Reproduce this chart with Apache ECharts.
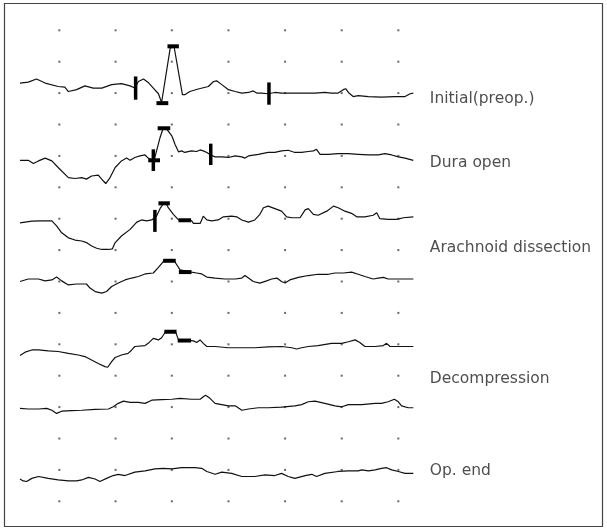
<!DOCTYPE html>
<html>
<head>
<meta charset="utf-8">
<script src="https://cdn.jsdelivr.net/npm/echarts@6/dist/echarts.min.js"></script>
<style>html,body{margin:0;padding:0;background:#fff}#c{width:607px;height:529px}</style>
</head>
<body>
<div id="c"></div>
<script>
// Time (ms) and amplitude (µV, relative to each trace's baseline)
const traceNames = ['Initial(preop.)','Dura open','Arachnoid dissection 1','Arachnoid dissection 2','Decompression 1','Decompression 2','Op. end'];
const offsets = [13, 11, 9, 7, 5, 3, 1];

const t1 = [0,0.21,0.42,0.64,0.97,1.14,1.23,1.44,1.65,1.86,2.08,2.33,2.58,2.80,2.92,3.01,3.14,3.26,3.39,3.52,3.60,3.82,3.92,4.13,4.19,4.32,4.53,4.79,4.92,5.00,5.13,5.30,5.47,5.64,5.81,5.93,6.02,6.14,6.31,6.48,6.65,7.08,7.50,7.75,7.92,8.09,8.22,8.28,8.35,8.47,8.60,8.86,9.19,9.53,9.79,9.92,10.0];
const a1 = [0.32,0.35,0.45,0.32,0.21,0.19,0.05,0.11,0.23,0.16,0.16,0.27,0.30,0.23,0.16,0.37,0.45,0.34,0.16,-0.02,-0.30,1.44,1.46,-0.05,-0.05,0.05,0.13,0.21,0.37,0.39,0.27,0.11,0.05,0,0.02,0.07,0,0,-0.02,0.02,0,0,0,0.02,0,0,0.11,0.14,0.02,-0.11,-0.08,-0.11,-0.13,-0.11,-0.11,-0.02,0];

const t2 = [0,0.21,0.34,0.47,0.64,0.81,0.97,1.23,1.40,1.57,1.69,1.82,1.99,2.12,2.18,2.29,2.42,2.58,2.71,2.80,2.92,3.05,3.18,3.26,3.35,3.43,3.56,3.64,3.73,3.86,3.94,4.03,4.11,4.19,4.36,4.49,4.58,4.66,4.75,4.85,4.96,5.13,5.30,5.47,5.64,5.72,5.81,6.06,6.31,6.48,6.65,6.82,6.99,7.16,7.33,7.46,7.54,7.63,7.84,8.09,8.35,8.60,8.86,9.11,9.28,9.45,9.62,9.79,10.0];
const a2 = [-0.14,-0.14,-0.24,-0.16,-0.07,-0.16,-0.37,-0.69,-0.72,-0.69,-0.74,-0.64,-0.61,-0.80,-0.88,-0.69,-0.37,-0.16,-0.07,-0.14,-0.05,0,0.03,-0.07,-0.14,-0.05,0.58,0.88,0.85,0.64,0.37,0.13,0.16,0.11,0.16,0.14,0.19,0.16,0.11,0.03,-0.03,-0.03,-0.05,0,-0.03,-0.07,0,0.05,0.11,0.11,0.16,0.18,0.11,0.11,0.14,0.16,0.21,0.05,0.05,0.07,0.07,0.05,0.03,0.03,0.07,0.03,-0.03,-0.07,-0.14];

const t3 = [0,0.30,0.55,0.81,0.93,1.06,1.23,1.40,1.57,1.69,1.82,1.95,2.08,2.25,2.35,2.42,2.58,2.80,2.97,3.09,3.22,3.35,3.47,3.56,3.64,3.73,3.77,3.90,4.03,4.36,4.41,4.58,4.66,4.75,4.87,5.04,5.17,5.38,5.51,5.64,5.81,5.97,6.10,6.19,6.31,6.48,6.65,6.78,6.91,7.12,7.25,7.33,7.46,7.58,7.80,7.97,8.09,8.26,8.43,8.56,8.77,8.98,9.07,9.15,9.36,9.58,9.75,10.0];
const a3 = [-0.13,-0.08,-0.07,-0.07,-0.23,-0.45,-0.61,-0.68,-0.71,-0.76,-0.87,-0.94,-0.98,-0.98,-0.96,-0.76,-0.55,-0.34,-0.11,-0.04,-0.07,-0.04,0.08,0.32,0.47,0.45,0.35,0.14,-0.04,-0.06,-0.15,-0.15,0.08,-0.04,-0.07,-0.04,0.06,0.08,0.06,-0.04,-0.11,-0.04,0.14,0.35,0.40,0.32,0.24,0.06,0.03,0.03,0.28,0.32,0.14,0.11,0.24,0.40,0.35,0.24,0.17,0.06,0.06,0.11,0.19,0,-0.02,-0.02,0.03,0.06];

const t4 = [0,0.21,0.47,0.64,0.81,0.93,1.06,1.23,1.44,1.69,1.78,1.91,2.08,2.20,2.33,2.50,2.67,2.84,3.01,3.18,3.39,3.52,3.66,3.92,4.07,4.36,4.49,4.62,4.75,4.96,5.21,5.47,5.64,5.72,5.81,5.93,6.10,6.27,6.40,6.53,6.65,6.74,6.86,7.08,7.33,7.58,7.84,8.01,8.22,8.43,8.60,8.77,8.98,9.11,9.24,9.36,9.62,10.0];
const a4 = [0,0.08,0.08,0.02,0.05,0.14,0.02,-0.11,-0.08,-0.08,-0.21,-0.32,-0.37,-0.32,-0.16,-0.05,0.05,0.11,0.16,0.24,0.27,0.45,0.66,0.66,0.37,0.30,0.27,0.24,0.14,0.11,0.08,0.08,0.11,0.19,0.11,0,-0.05,0.02,0.08,0.11,0,-0.05,0.05,0.13,0.19,0.23,0.23,0.27,0.27,0.30,0.23,0.16,0.08,0.11,0.13,0.08,0.08,0.08];

const t5 = [0,0.13,0.30,0.47,0.72,0.97,1.23,1.48,1.53,1.65,1.82,1.99,2.16,2.23,2.33,2.42,2.58,2.75,2.84,2.92,3.18,3.26,3.39,3.52,3.60,3.70,3.96,4.03,4.35,4.41,4.49,4.58,4.66,4.75,4.96,5.30,5.64,5.97,6.31,6.65,6.91,7.03,7.16,7.33,7.58,7.92,8.18,8.35,8.52,8.64,8.77,9.03,9.24,9.32,9.41,9.62,10.0];
const a5 = [-0.36,-0.25,-0.18,-0.18,-0.21,-0.23,-0.29,-0.34,-0.37,-0.39,-0.50,-0.61,-0.71,-0.73,-0.55,-0.42,-0.34,-0.29,-0.18,-0.07,-0.04,0.03,0.19,0.14,0.21,0.40,0.38,0.14,0.12,0.11,0.06,0.14,0.03,-0.07,-0.07,-0.11,-0.11,-0.11,-0.08,-0.07,-0.11,-0.15,-0.11,-0.07,-0.04,0.03,0.03,0.08,0.14,0.06,-0.07,-0.07,-0.04,0.03,-0.07,-0.07,-0.07];

const t6 = [0,0.21,0.47,0.68,0.81,0.93,1.06,1.31,1.57,1.91,2.25,2.37,2.50,2.63,2.80,3.01,3.18,3.35,3.60,3.86,4.07,4.36,4.58,4.66,4.72,4.83,4.96,5.30,5.47,5.64,5.81,6.06,6.31,6.65,6.99,7.16,7.33,7.50,7.75,8.01,8.18,8.35,8.69,9.03,9.19,9.36,9.52,9.62,9.70,9.87,10.0];
const a6 = [-0.04,-0.06,-0.06,-0.04,-0.10,-0.20,-0.13,-0.11,-0.10,-0.07,-0.06,0.01,0.12,0.19,0.15,0.15,0.12,0.22,0.24,0.25,0.28,0.25,0.25,0.33,0.38,0.28,0.12,0.04,0.04,-0.10,-0.06,-0.02,-0.02,0,0.04,0.08,0.17,0.19,0.12,0.04,0.01,0.08,0.08,0.12,0.12,0.17,0.25,0.17,0.04,-0.02,-0.02];

const t7 = [0,0.08,0.17,0.30,0.47,0.72,0.97,1.23,1.44,1.57,1.74,1.91,2.03,2.20,2.37,2.50,2.67,2.92,3.18,3.43,3.64,3.86,4.11,4.45,4.62,4.75,4.96,5.13,5.38,5.64,5.97,6.23,6.48,6.65,6.82,6.99,7.25,7.42,7.54,7.75,8.09,8.35,8.60,8.69,8.86,9.03,9.19,9.32,9.45,9.62,9.79,10.0];
const a7 = [-0.29,-0.35,-0.37,-0.27,-0.21,-0.27,-0.32,-0.35,-0.35,-0.32,-0.24,-0.29,-0.37,-0.27,-0.18,-0.14,-0.18,-0.07,-0.03,0.03,0.05,0.03,0.07,0.07,0.05,-0.05,-0.14,-0.07,-0.11,-0.21,-0.21,-0.16,-0.18,-0.11,-0.21,-0.27,-0.18,-0.14,-0.21,-0.11,-0.05,-0.03,-0.03,0,-0.03,0,0.05,0.07,0,-0.05,-0.11,-0.11];

// Peak markers: vertical bars [trace, time, low, high], horizontal bars [trace, t start, t end, amplitude]
const vBars = [[0,2.94,-0.21,0.53],[0,6.33,-0.37,0.34],[1,3.39,-0.48,0.21],[1,4.85,-0.29,0.39],[2,3.43,-0.42,0.28]];
const hBars = [[0,3.75,4.04,1.49],[0,3.47,3.77,-0.32],[1,3.26,3.56,-0.14],[1,3.50,3.82,0.88],[2,3.52,3.81,0.49],[2,4.03,4.35,-0.05],[3,3.64,3.96,0.66],[3,4.04,4.36,0.30],[4,3.67,3.98,0.40],[4,4.01,4.35,0.12]];

// Dot grid
const gridTimes = [1.0,2.43,3.86,5.30,6.74,8.18,9.62];
const gridLevels = [0,1,2,3,4,5,6,7,8,9,10,11,12,13,14,15];

// Stage labels
const labelNames = ['Initial(preop.)','Dura open','Arachnoid dissection','Decompression','Op. end'];
const labelLevels = [12.81,10.77,8.07,3.90,0.97];
const labelTime = 10.42;

const times = [t1,t2,t3,t4,t5,t6,t7];
const amps = [a1,a2,a3,a4,a5,a6,a7];

const series = [];
const dots = [];
gridTimes.forEach(t => gridLevels.forEach(l => dots.push([t, l])));
series.push({type:'scatter', data:dots, symbol:'rect', symbolSize:2, itemStyle:{color:'#444'}, silent:true, z:1});

times.forEach((ts, i) => {
  series.push({
    type:'line', name:traceNames[i], data: ts.map((t, j) => [t, offsets[i] + amps[i][j]]),
    showSymbol:false, symbol:'none', lineStyle:{color:'#111', width:1.2}, silent:true, z:3
  });
});

const segs = [];
vBars.forEach(b => segs.push([b[1], offsets[b[0]] + b[2], b[1], offsets[b[0]] + b[3], 3.5]));
hBars.forEach(b => segs.push([b[1], offsets[b[0]] + b[3], b[2], offsets[b[0]] + b[3], 4]));
series.push({
  type:'custom', data:segs, encode:{x:[0,2], y:[1,3]}, z:5, silent:true,
  renderItem:(params, api) => {
    const p1 = api.coord([api.value(0), api.value(1)]);
    const p2 = api.coord([api.value(2), api.value(3)]);
    return {type:'line', shape:{x1:p1[0], y1:p1[1], x2:p2[0], y2:p2[1]}, style:{stroke:'#000', lineWidth:api.value(4)}};
  }
});

series.push({
  type:'scatter', symbolSize:0, clip:false, silent:true, z:6,
  data: labelNames.map((n, i) => ({value:[labelTime, labelLevels[i]], name:n})),
  label:{show:true, position:'right', distance:0, formatter:'{b}', color:'#222', fontSize:15.5, fontFamily:'DejaVu Sans'}
});

const chart = echarts.init(document.getElementById('c'), null, {renderer:'canvas'});
chart.setOption({
  animation:false,
  backgroundColor:'#fff',
  grid:{left:20, top:30.3, width:393.3, height:471},
  xAxis:{type:'value', min:0, max:10, show:false},
  yAxis:{type:'value', min:0, max:15, show:false},
  graphic:[{type:'rect', shape:{x:4.5, y:3.5, width:598, height:523}, style:{fill:'none', stroke:'#444', lineWidth:1.2}, silent:true}],
  series
});
</script>
</body>
</html>
